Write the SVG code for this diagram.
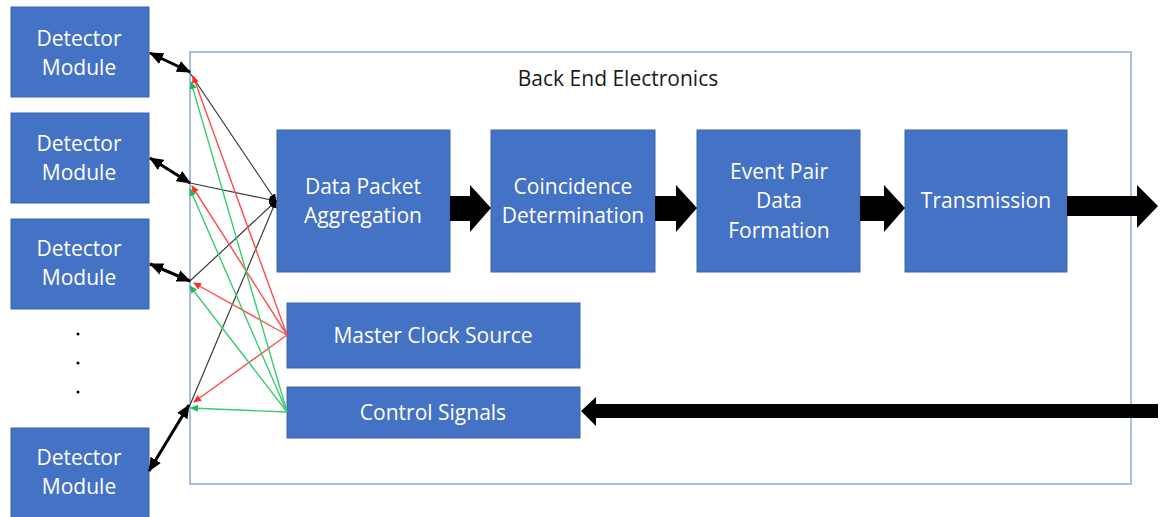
<svg xmlns="http://www.w3.org/2000/svg" width="1161" height="517" viewBox="0 0 1161 517">
  <style>
    .box { fill: #4472C4; stroke: #3A64AE; stroke-width: 1; }
    .lbl { font-family: "Open Sans", "Noto Sans", sans-serif; font-size: 21px; fill: #FFFFFF; text-anchor: middle; }
    .title { font-family: "Open Sans", "Noto Sans", sans-serif; font-size: 21px; fill: #1A1A1A; text-anchor: middle; }
    .link { stroke: #000000; stroke-width: 3; fill: none; marker-start: url(#blkStart); marker-end: url(#blkEnd); }
    .data { stroke: #3A3A3A; stroke-width: 1.2; fill: none; marker-end: url(#smallBlk); }
    .clk { stroke: #FF4B4B; stroke-width: 1.4; fill: none; marker-end: url(#smallRed); }
    .ctl { stroke: #3DCB70; stroke-width: 1.4; fill: none; marker-end: url(#smallGrn); }
    .block { fill: #000000; }
  </style>
  <defs>
    <marker id="blkEnd" markerUnits="userSpaceOnUse" markerWidth="14" markerHeight="12" refX="13" refY="6" orient="auto">
      <path d="M0,0 L14,6 L0,12 Z" fill="#000"/>
    </marker>
    <marker id="blkStart" markerUnits="userSpaceOnUse" markerWidth="14" markerHeight="12" refX="1" refY="6" orient="auto">
      <path d="M14,0 L0,6 L14,12 Z" fill="#000"/>
    </marker>
    <marker id="smallBlk" markerUnits="userSpaceOnUse" markerWidth="8" markerHeight="7" refX="7" refY="3.5" orient="auto">
      <path d="M0,0 L8,3.5 L0,7 Z" fill="#000"/>
    </marker>
    <marker id="smallRed" markerUnits="userSpaceOnUse" markerWidth="8" markerHeight="7" refX="7" refY="3.5" orient="auto">
      <path d="M0,0 L8,3.5 L0,7 Z" fill="#FF2A2A"/>
    </marker>
    <marker id="smallGrn" markerUnits="userSpaceOnUse" markerWidth="8" markerHeight="7" refX="7" refY="3.5" orient="auto">
      <path d="M0,0 L8,3.5 L0,7 Z" fill="#1FB85A"/>
    </marker>
  </defs>

  <rect width="1161" height="517" fill="#FFFFFF"/>

  <!-- back end enclosure -->
  <g id="back-end">
    <rect x="190" y="52" width="941" height="432" fill="none" stroke="#7F9CD0" stroke-width="1.3"/>
    <text class="title" x="618" y="86">Back End Electronics</text>
  </g>

  <!-- detector modules -->
  <g id="detector-1">
    <rect class="box" x="11" y="7" width="138" height="90"/>
    <text class="lbl" x="79" y="46">Detector</text>
    <text class="lbl" x="79" y="75">Module</text>
  </g>
  <g id="detector-2">
    <rect class="box" x="11" y="113" width="138" height="90"/>
    <text class="lbl" x="79" y="151">Detector</text>
    <text class="lbl" x="79" y="180">Module</text>
  </g>
  <g id="detector-3">
    <rect class="box" x="11" y="219" width="138" height="90"/>
    <text class="lbl" x="79" y="256">Detector</text>
    <text class="lbl" x="79" y="285">Module</text>
  </g>
  <g id="ellipsis">
    <circle cx="78" cy="334" r="1.5" fill="#000"/>
    <circle cx="78" cy="363" r="1.5" fill="#000"/>
    <circle cx="78" cy="392" r="1.5" fill="#000"/>
  </g>
  <g id="detector-n">
    <rect class="box" x="11" y="428" width="138" height="95"/>
    <text class="lbl" x="79" y="465">Detector</text>
    <text class="lbl" x="79" y="494">Module</text>
  </g>

  <!-- processing blocks -->
  <g id="aggregation">
    <rect class="box" x="277" y="130" width="173" height="142"/>
    <text class="lbl" x="363" y="194">Data Packet</text>
    <text class="lbl" x="363" y="223">Aggregation</text>
  </g>
  <g id="coincidence">
    <rect class="box" x="491" y="130" width="164" height="142"/>
    <text class="lbl" x="573" y="194">Coincidence</text>
    <text class="lbl" x="573" y="223">Determination</text>
  </g>
  <g id="event-pair">
    <rect class="box" x="697" y="130" width="163" height="142"/>
    <text class="lbl" x="779" y="179">Event Pair</text>
    <text class="lbl" x="779" y="208">Data</text>
    <text class="lbl" x="779" y="238">Formation</text>
  </g>
  <g id="transmission">
    <rect class="box" x="905" y="130" width="162" height="142"/>
    <text class="lbl" x="986" y="208">Transmission</text>
  </g>
  <g id="master-clock">
    <rect class="box" x="287" y="303" width="293" height="65"/>
    <text class="lbl" x="433" y="343">Master Clock Source</text>
  </g>
  <g id="control-signals">
    <rect class="box" x="287" y="387" width="293" height="51"/>
    <text class="lbl" x="433" y="420">Control Signals</text>
  </g>

  <!-- connectors -->
  <g id="connectors">
    <!-- detector links -->
    <line class="link" x1="150" y1="53" x2="190" y2="72"/>
    <line class="link" x1="150" y1="158" x2="190" y2="183"/>
    <line class="link" x1="150" y1="264" x2="190" y2="281"/>
    <line class="link" x1="149" y1="471" x2="189" y2="405"/>

    <!-- data paths to aggregation -->
    <line class="data" x1="190" y1="73" x2="276" y2="201"/>
    <line class="data" x1="190" y1="183" x2="276" y2="201"/>
    <line class="data" x1="190" y1="281" x2="276" y2="201"/>
    <line class="data" x1="190" y1="405" x2="276" y2="201"/>

    <!-- clock distribution -->
    <line class="clk" x1="287" y1="335" x2="193" y2="76"/>
    <line class="clk" x1="287" y1="335" x2="192" y2="186"/>
    <line class="clk" x1="287" y1="335" x2="194" y2="283"/>
    <line class="clk" x1="287" y1="335" x2="194" y2="402"/>

    <!-- control distribution -->
    <line class="ctl" x1="287" y1="412" x2="191" y2="82"/>
    <line class="ctl" x1="287" y1="412" x2="190" y2="189"/>
    <line class="ctl" x1="287" y1="412" x2="190" y2="286"/>
    <line class="ctl" x1="287" y1="412" x2="191" y2="408"/>

    <!-- block arrows -->
    <path class="block" d="M450,196 L470,196 L470,185 L491,208 L470,232 L470,221 L450,221 Z"/>
    <path class="block" d="M655,196 L676,196 L676,185 L697,208 L676,232 L676,221 L655,221 Z"/>
    <path class="block" d="M860,196 L884,196 L884,185 L905,208 L884,232 L884,221 L860,221 Z"/>
    <path class="block" d="M1067,196 L1137,196 L1137,185 L1158,206 L1137,228 L1137,216 L1067,216 Z"/>
    <path class="block" d="M1158,404 L596,404 L596,397 L581,411 L596,426 L596,418 L1158,418 Z"/>
  </g>
</svg>
